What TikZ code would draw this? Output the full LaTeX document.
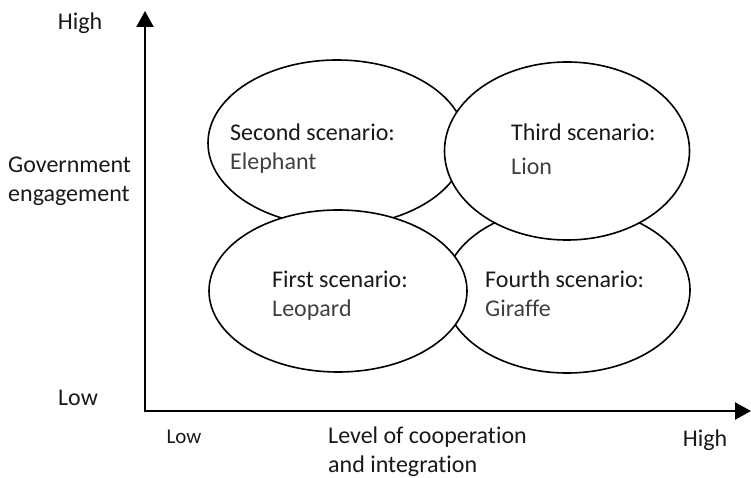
\documentclass[tikz,border=0pt]{standalone}
\usepackage{fontspec}
\setmainfont{Carlito}[Ligatures=NoCommon]
\usetikzlibrary{shapes.geometric,arrows.meta}
\tikzset{sc/.style = {ellipse, line width=1.6pt, draw, fill=white, inner sep=0pt},
           lb/.style = {font=\fontsize{24}{29}\selectfont, inner sep=0pt, align=left, anchor=north west, text=black!90},
           ax/.style = {font=\fontsize{24}{29}\selectfont, inner sep=0pt, text=black!90}}
\newcommand{\animal}[1]{\textcolor{black!75}{#1}}

\begin{document}
\begin{tikzpicture}[x=1pt, y=-1pt, >={Triangle[length=16pt, width=17pt]}]
    \useasboundingbox (0,0) rectangle (751,478);
    \coordinate (ytop) at (145,11); \coordinate (xend) at (751,411);
    \draw[<->, line width=2.2pt] (ytop) |- (xend);
    \node[sc, minimum width=258pt, minimum height=166pt] (second) at (337,143) {};
    \node[sc, minimum width=246pt, minimum height=166pt] (fourth) at (567,290) {};
    \node[sc, minimum width=245pt, minimum height=178pt] (third) at (567,151) {};
    \node[sc, minimum width=258pt, minimum height=162pt] (first) at (338,291) {};
    \node[lb] (secondtxt) at (230,124) {Second scenario:\\\animal{Elephant}};
    \node[lb] (thirdtxt) at (511,124) {Third scenario:\\[5pt]\animal{Lion}};
    \node[lb] (firsttxt) at (272,271) {First scenario:\\\animal{Leopard}};
    \node[lb] (fourthtxt) at (485,271) {Fourth scenario:\\\animal{Giraffe}};
    \node[ax] (yhigh) at (80,23) {High};
    \node[lb] (ylab) at (8,157) {Government\\engagement};
    \node[ax] (ylow) at (78,398) {Low};
    \node[ax, font=\fontsize{21}{25}\selectfont] (xlow) at (184,437) {Low};
    \node[lb] (xlab) at (328,427) {Level of cooperation\\and integration};
    \node[ax] (xhigh) at (705,440) {High};
  \end{tikzpicture}
\end{document}
